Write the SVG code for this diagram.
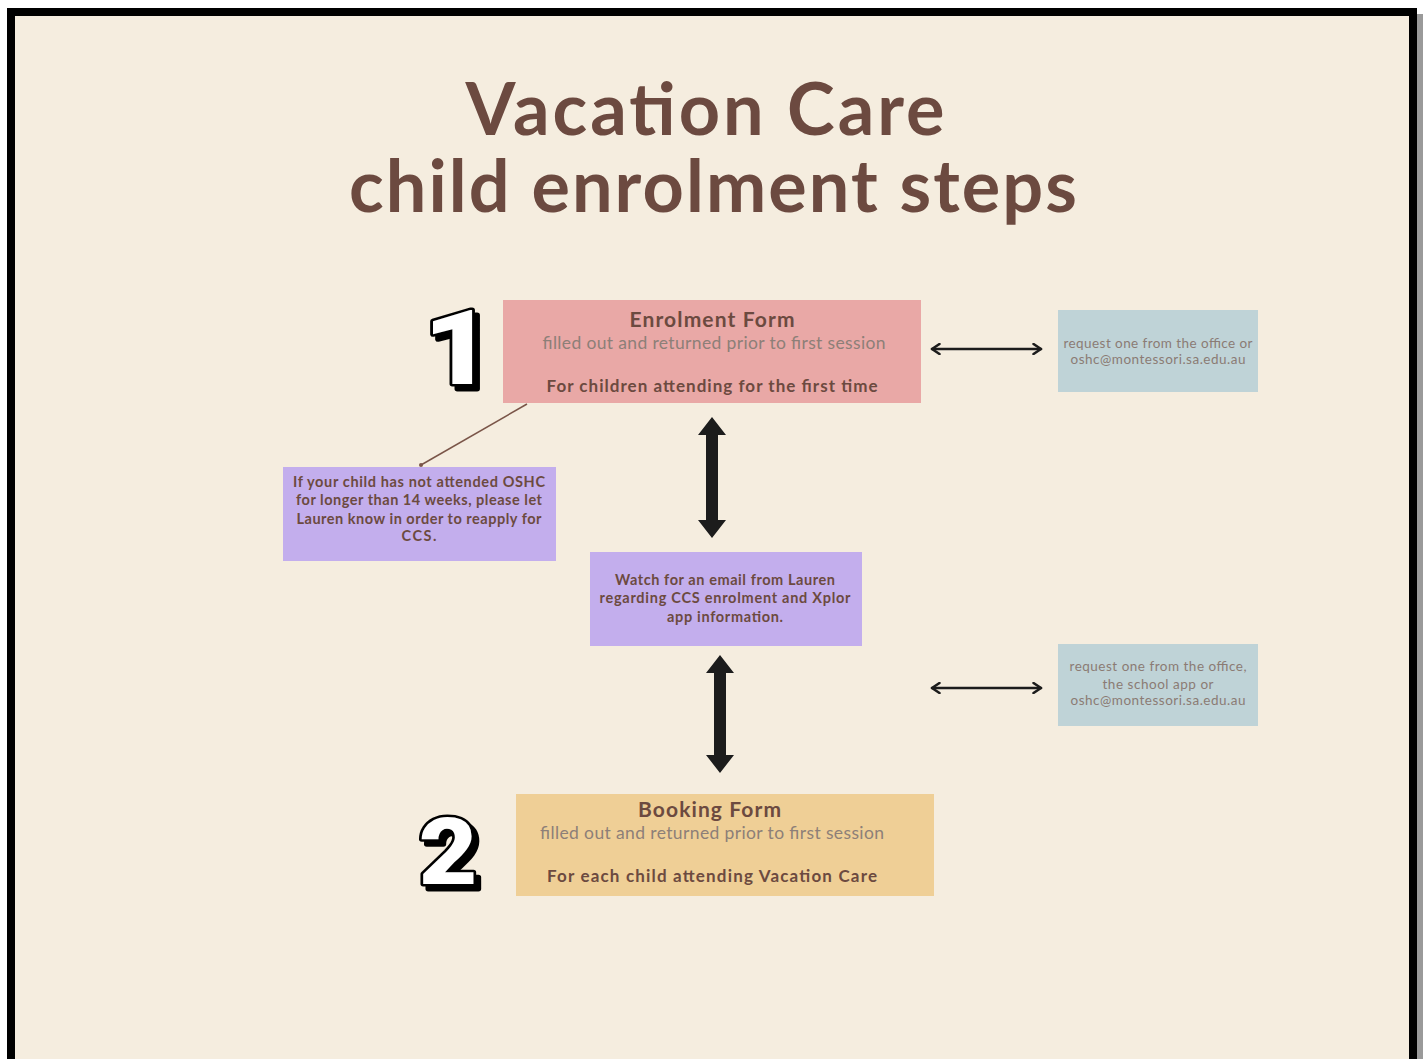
<svg xmlns="http://www.w3.org/2000/svg" width="1423" height="1059" viewBox="0 0 1423 1059">
<defs>
<style>
.title{font-family:Lato,"Open Sans","DejaVu Sans",sans-serif;font-weight:700;font-size:72px;fill:#6c4a40;text-anchor:middle}
.hd{font-family:Lato,"Open Sans",sans-serif;font-weight:700;font-size:21px;fill:#6c4a40;text-anchor:middle}
.sub{font-family:Lato,"Open Sans",sans-serif;font-weight:400;font-size:17.5px;fill:#8d7f78;text-anchor:middle}
.bd{font-family:Lato,"Open Sans",sans-serif;font-weight:700;font-size:17px;fill:#6c4a40;text-anchor:middle}
.pt{font-family:Lato,"Open Sans",sans-serif;font-weight:700;font-size:14.5px;fill:#6c4a40;text-anchor:middle}
.bt{font-family:Lato,"Open Sans",sans-serif;font-weight:400;font-size:13.5px;fill:#8b7b74;text-anchor:middle}
.num{font-family:Roboto,"Liberation Sans",sans-serif;font-weight:900;fill:#fff;stroke:#000;stroke-width:5;stroke-linejoin:round;paint-order:stroke;text-anchor:middle}
.thin{stroke:#1c1c1c;stroke-width:2.5;fill:none;stroke-linecap:round}
</style>
<filter id="hard" x="-30%" y="-30%" width="160%" height="160%">
<feOffset in="SourceAlpha" dx="5" dy="5" result="o"/>
<feFlood flood-color="#000"/>
<feComposite in2="o" operator="in" result="s"/>
<feMerge><feMergeNode in="s"/><feMergeNode in="SourceGraphic"/></feMerge>
</filter>
<marker id="chev" viewBox="0 0 10 10" refX="8" refY="5" markerWidth="5" markerHeight="5" orient="auto-start-reverse" markerUnits="strokeWidth">
<path d="M2,1 L8,5 L2,9" fill="none" stroke="#1c1c1c" stroke-width="2" stroke-linecap="round" stroke-linejoin="round"/>
</marker>
</defs>
<rect x="0" y="0" width="1423" height="1059" fill="#ffffff"/>
<rect x="1417" y="14" width="6" height="1045" fill="#9a9a9a"/>
<rect x="7" y="8" width="1410" height="1051" fill="#000"/>
<rect x="15" y="16" width="1394" height="1043" fill="#f5eddf"/>

<g id="title">
<text class="title"><tspan x="705" y="135" textLength="479" lengthAdjust="spacing">Vacation Care</tspan><tspan x="713" y="212" textLength="728" lengthAdjust="spacing">child enrolment steps</tspan></text>
</g>

<g id="connectors">
<line x1="527" y1="404" x2="421" y2="465" stroke="#7a5548" stroke-width="1.5"/>
<circle cx="421" cy="465" r="2" fill="#7a5548"/>
<path d="M712,417 L726,435 L718,435 L718,520 L726,520 L712,538 L698,520 L706,520 L706,435 L698,435 Z" fill="#1c1c1c"/>
<path d="M720,655 L734,673 L726,673 L726,755 L734,755 L720,773 L706,755 L714,755 L714,673 L706,673 Z" fill="#1c1c1c"/>
<line class="thin" x1="932" y1="349" x2="1041" y2="349" marker-start="url(#chev)" marker-end="url(#chev)"/>
<line class="thin" x1="932" y1="688" x2="1041" y2="688" marker-start="url(#chev)" marker-end="url(#chev)"/>
</g>

<g id="step1" filter="url(#hard)">
<text class="num" font-size="104" transform="translate(458,384) scale(1.15,1)">1</text>
</g>

<g id="enrolment">
<rect x="503" y="300" width="418" height="103" fill="#e9a8a6"/>
<text class="hd" x="712" y="327" textLength="165" lengthAdjust="spacing">Enrolment Form</text>
<text class="sub" x="714" y="349" textLength="343" lengthAdjust="spacing">filled out and returned prior to first session</text>
<text class="bd" x="712" y="392" textLength="331" lengthAdjust="spacing">For children attending for the first time</text>
</g>

<g id="note-reapply">
<rect x="283" y="467" width="273" height="94" fill="#c3aeed"/>
<text class="pt" x="419" y="487" textLength="252" lengthAdjust="spacing">If your child has not attended OSHC</text>
<text class="pt" x="419" y="505" textLength="246" lengthAdjust="spacing">for longer than 14 weeks, please let</text>
<text class="pt" x="419" y="524" textLength="245" lengthAdjust="spacing">Lauren know in order to reapply for</text>
<text class="pt" x="419" y="541" textLength="35" lengthAdjust="spacing">CCS.</text>
</g>

<g id="watch-email">
<rect x="590" y="552" width="272" height="94" fill="#c3aeed"/>
<text class="pt" x="725" y="585" textLength="220" lengthAdjust="spacing">Watch for an email from Lauren</text>
<text class="pt" x="725" y="603" textLength="251" lengthAdjust="spacing">regarding CCS enrolment and Xplor</text>
<text class="pt" x="725" y="622" textLength="116" lengthAdjust="spacing">app information.</text>
</g>

<g id="request1">
<rect x="1058" y="310" width="200" height="82" fill="#bfd3d7"/>
<text class="bt" x="1158" y="348" textLength="189" lengthAdjust="spacing">request one from the office or</text>
<text class="bt" x="1158" y="364" textLength="175" lengthAdjust="spacing">oshc@montessori.sa.edu.au</text>
</g>

<g id="request2">
<rect x="1058" y="644" width="200" height="82" fill="#bfd3d7"/>
<text class="bt" x="1158" y="671" textLength="177" lengthAdjust="spacing">request one from the office,</text>
<text class="bt" x="1158" y="689" textLength="111" lengthAdjust="spacing">the school app or</text>
<text class="bt" x="1158" y="705" textLength="175" lengthAdjust="spacing">oshc@montessori.sa.edu.au</text>
</g>

<g id="step2" filter="url(#hard)">
<text class="num" font-size="92" transform="translate(448,884) scale(1.1,1)">2</text>
</g>

<g id="booking">
<rect x="516" y="794" width="418" height="102" fill="#efcf96"/>
<text class="hd" x="709.5" y="817" textLength="143" lengthAdjust="spacing">Booking Form</text>
<text class="sub" x="712" y="839" textLength="344" lengthAdjust="spacing">filled out and returned prior to first session</text>
<text class="bd" x="712" y="882" textLength="330" lengthAdjust="spacing">For each child attending Vacation Care</text>
</g>
</svg>
